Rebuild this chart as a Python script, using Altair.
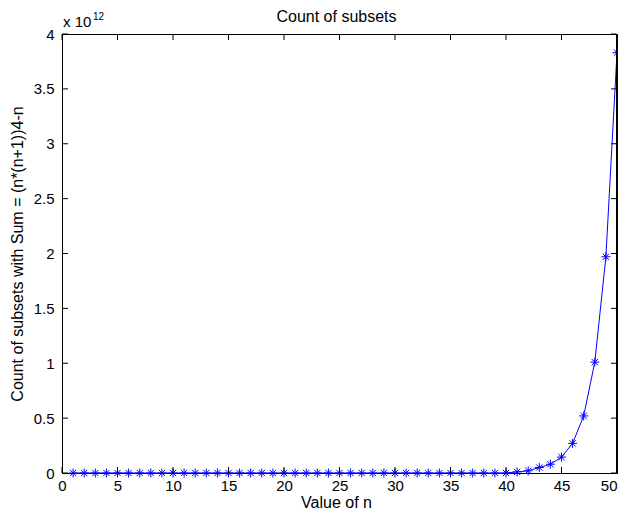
import altair as alt
import pandas as pd

n_values = list(range(1, 51))
counts_e12 = [0.0] * 40 + [0.01, 0.02, 0.05, 0.08, 0.145, 0.27, 0.52, 1.01, 1.97, 3.83]
x_ticks = [0, 5, 10, 15, 20, 25, 30, 35, 40, 45, 50]
y_ticks_e12 = [0, 0.5, 1, 1.5, 2, 2.5, 3, 3.5, 4]
title_text = "Count of subsets"
x_title = "Value of n"
y_title = "Count of subsets with Sum = (n*(n+1))4-n"

df = pd.DataFrame({"n": n_values, "count": [c * 1e12 for c in counts_e12]})
xt = pd.DataFrame({"t": x_ticks})
yt = pd.DataFrame({"t": [v * 1e12 for v in y_ticks_e12]})
txt_df = pd.DataFrame({"title": [title_text], "xt": [x_title], "a": ["x 10"], "b": ["12"]})

W, H = 555, 439
FONT = "Liberation Sans"
BLUE = "#0000ff"

xscale = alt.Scale(domain=[0, 50], nice=False, zero=False)
yscale = alt.Scale(domain=[0, 4e12], nice=False)

star = "M-1,0L1,0M0,-1L0,1M-0.7,-0.7L0.7,0.7M-0.7,0.7L0.7,-0.7"

base = alt.Chart(df)
line = base.mark_line(color=BLUE, strokeWidth=1).encode(
    x=alt.X("n:Q", scale=xscale,
            axis=alt.Axis(values=x_ticks, title=None, grid=False, ticks=False,
                          labelPadding=5, domain=False, labelFlush=False,
                          labelAlign={"condition": {"test": "datum.value == 50", "value": "right"},
                                      "value": "center"})),
    y=alt.Y("count:Q", scale=yscale,
            axis=alt.Axis(values=[v * 1e12 for v in y_ticks_e12],
                          labelExpr="datum.value/1e12 + ''",
                          title=y_title, labelFlush=False,
                          grid=False, ticks=False, labelPadding=8, domain=False, titlePadding=8)),
)
pts = base.mark_point(shape=star, color=BLUE, size=80, strokeWidth=1, filled=False, opacity=1).encode(
    x=alt.X("n:Q", scale=xscale), y=alt.Y("count:Q", scale=yscale)
)

tick_len = 6
xb = alt.Chart(xt).mark_rule(color="black").encode(
    x=alt.X("t:Q", scale=xscale), y=alt.value(H), y2=alt.value(H - tick_len))
xtop = alt.Chart(xt).mark_rule(color="black").encode(
    x=alt.X("t:Q", scale=xscale), y=alt.value(0), y2=alt.value(tick_len))
yl = alt.Chart(yt).mark_rule(color="black").encode(
    y=alt.Y("t:Q", scale=yscale), x=alt.value(0), x2=alt.value(tick_len))
yr = alt.Chart(yt).mark_rule(color="black").encode(
    y=alt.Y("t:Q", scale=yscale), x=alt.value(W - 0.5), x2=alt.value(W - tick_len))
right_edge = alt.Chart(txt_df).mark_rule(color="black").encode(
    x=alt.value(W - 0.5), y=alt.value(0), y2=alt.value(H))

ttl = alt.Chart(txt_df).mark_text(font=FONT, fontSize=16, align="center", baseline="alphabetic",
                                  color="black").encode(
    text="title:N", x=alt.value(W / 2 - 3), y=alt.value(-12))
xttl = alt.Chart(txt_df).mark_text(font=FONT, fontSize=16, align="center", baseline="alphabetic",
                                   color="black").encode(
    text="xt:N", x=alt.value(W / 2 - 3), y=alt.value(H + 35))
exp1 = alt.Chart(txt_df).mark_text(font=FONT, fontSize=15, align="left", baseline="alphabetic",
                                   color="black").encode(
    text="a:N", x=alt.value(1), y=alt.value(-7))
exp2 = alt.Chart(txt_df).mark_text(font=FONT, fontSize=10, align="left", baseline="alphabetic",
                                   color="black").encode(
    text="b:N", x=alt.value(31), y=alt.value(-14))

chart = alt.layer(line, pts, xb, xtop, yl, yr, right_edge, ttl, xttl, exp1, exp2).properties(
    width=W, height=H,
    autosize=alt.AutoSizeParams(type="none"),
    padding={"left": 54, "top": 26, "right": 1, "bottom": 38},
    background="white",
).configure_view(stroke="black", strokeWidth=1).configure_axis(
    labelFont=FONT, labelFontSize=15, labelColor="black",
    titleFont=FONT, titleFontSize=16, titleFontWeight="normal", titleColor="black",
)

chart.save("out.html", embed_options={"renderer": "svg", "actions": False})
